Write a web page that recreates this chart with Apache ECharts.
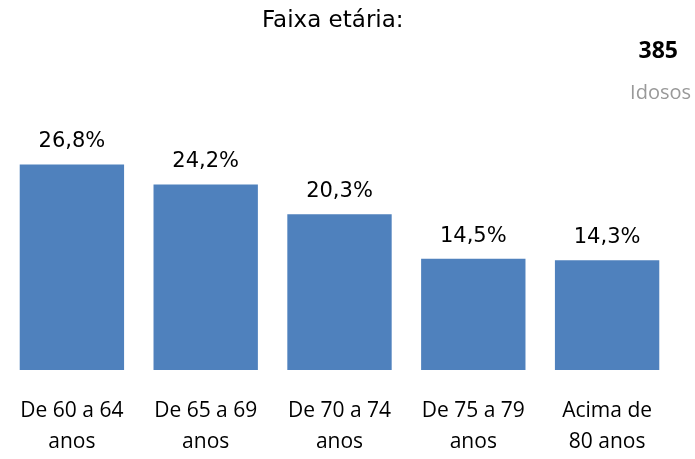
<!DOCTYPE html>
<html><head><meta charset="utf-8">
<script src="https://cdn.jsdelivr.net/npm/echarts@6/dist/echarts.min.js"></script>
<style>html,body{margin:0;padding:0;background:#fff}#c{width:695px;height:459px}</style>
</head><body><div id="c"></div>
<script>
const categories = ["De 60 a 64\nanos", "De 65 a 69\nanos", "De 70 a 74\nanos", "De 75 a 79\nanos", "Acima de\n80 anos"];
const values = [26.8, 24.2, 20.3, 14.5, 14.3];
const chart = echarts.init(document.getElementById('c'));
chart.setOption({
  animation: false,
  title: [
    {text: "Faixa etária:", left: 257, top: 5, textStyle: {fontFamily: 'DejaVu Sans', fontSize: 23, fontWeight: 'normal', color: '#000'}},
    {text: "385", right: 12, top: 35, textStyle: {fontFamily: 'Open Sans', fontSize: 23, fontWeight: 'bold', color: '#000'}},
    {text: "Idosos", right: -1, top: 78, textStyle: {fontFamily: 'Open Sans', fontSize: 20, fontWeight: 'normal', color: '#999'}}
  ],
  grid: {left: 5, right: 21, top: 140, bottom: 89},
  xAxis: {
    type: 'category', data: categories,
    axisLine: {show: false}, axisTick: {show: false},
    axisLabel: {fontFamily: 'Open Sans', fontSize: 21, color: '#000', lineHeight: 31, margin: 26, interval: 0}
  },
  yAxis: {type: 'value', min: 0, max: 30, show: false, splitLine: {show: false}},
  series: [{
    type: 'bar', data: values, barWidth: '78%',
    itemStyle: {color: '#4F81BD'},
    label: {show: true, position: 'top', distance: 12, fontFamily: 'DejaVu Sans', fontSize: 21, color: '#000',
      formatter: p => p.value.toFixed(1).replace('.', ',') + '%'}
  }]
});
</script></body></html>
